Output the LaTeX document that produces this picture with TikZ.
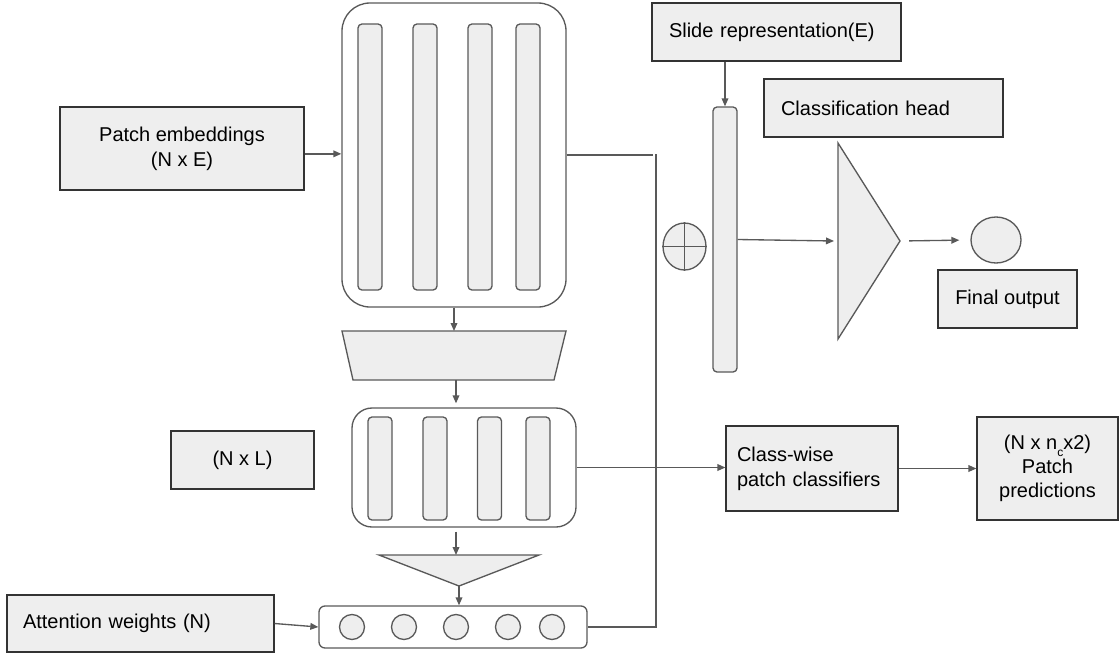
\documentclass[tikz,border=0pt]{standalone}
\usepackage{fontspec}
\setmainfont{Liberation Sans}
\usetikzlibrary{arrows.meta,shapes.geometric}
\definecolor{edge}{HTML}{595959}
\definecolor{ink}{HTML}{333333}
\definecolor{paper}{HTML}{EEEEEE}
\newcommand\lowsub[1]{\raisebox{-5pt}{\fontsize{9pt}{9pt}\selectfont #1}}
\tikzset{
  tbox/.style={draw=ink, fill=paper, line width=0.9pt, inner sep=0pt, align=center,
               font=\fontsize{15pt}{18.75pt}\selectfont},
  shell/.style={draw=edge, line width=1pt, rounded corners=#1, inner sep=0pt},
  bar/.style={draw=edge, fill=paper, line width=1pt, rounded corners=3pt, inner sep=0pt, minimum width=18pt},
  dot/.style={draw=edge, fill=paper, line width=1pt, circle, inner sep=0pt, minimum size=18.75pt},
  oval/.style={draw=edge, fill=paper, line width=1pt, ellipse, inner sep=0pt},
  block/.style={draw=edge, fill=paper, line width=1pt},
  conn/.style={draw=edge, line width=1pt},
  arr/.style={conn, -{Triangle[length=6pt,width=5pt]}},
}
\begin{document}
\begin{tikzpicture}[x=0.75pt, y=-0.75pt]
\useasboundingbox (0,0) rectangle (1120,654);

% input embeddings and the first stack
\node[tbox, minimum width=183pt, minimum height=62.25pt] (pe) at (182,148.5) {Patch embeddings\\(N x E)};
\node[shell=21pt, minimum width=168pt, minimum height=228pt] (big) at (454,155) {};
\foreach \x [count=\i] in {370,425,480,528}
  \node[bar, minimum height=199.5pt] (b\i) at (\x,157) {};

% projection
\draw[block] (342,331) -- (566,331) -- (554,380) -- (353,380) -- cycle;
\coordinate (trapT) at (454,331);
\coordinate (trapB) at (456,380);

% second stack
\node[shell=15pt, minimum width=168pt, minimum height=89.25pt] (low) at (464,467.5) {};
\foreach \x [count=\i] in {380,435,489.5,538}
  \node[bar, minimum height=77.25pt] (l\i) at (\x,468.5) {};
\node[tbox, minimum width=107.25pt, minimum height=43.5pt] (nl) at (242.5,460) {(N x L)};

% pooling funnel
\draw[block] (379,555) -- (539,555) -- (459,586) -- cycle;
\coordinate (funT) at (456,555);
\coordinate (funB) at (459,586);

% attention row
\node[shell=4.5pt, minimum width=201pt, minimum height=31.5pt] (att) at (453,627) {};
\foreach \x [count=\i] in {352,404,456,508,552}
  \node[dot] (d\i) at (\x,627) {};
\node[tbox, align=left, text width=176.25pt, inner xsep=12pt, minimum height=42.75pt] (aw) at (140.5,623.5) {Attention weights (N)};

% slide level branch
\node[tbox, align=left, text width=161.25pt, inner xsep=12.75pt, minimum height=43.5pt] (sr) at (776.5,32) {Slide representation(E)};
\node[bar, minimum height=198.75pt] (tb) at (725,239.5) {};
\node[oval, minimum width=32.25pt, minimum height=35.25pt] (sum) at (684.5,246.5) {};
\draw[conn] (sum.north) -- (sum.south) (sum.west) -- (sum.east);
\node[tbox, align=left, text width=153.75pt, inner xsep=12.75pt, minimum height=43.5pt] (ch) at (883.5,108) {Classification head};
\draw[block] (838,143) -- (900,241) -- (838,339) -- cycle;
\coordinate (hin) at (834,241);
\coordinate (hout) at (900,241);
\node[oval, minimum width=37.5pt, minimum height=34.5pt] (out) at (996,240) {};
\node[tbox, minimum width=104.25pt, minimum height=43.5pt] (fo) at (1007.5,299) {Final output};

% patch level branch
\node[tbox, align=left, text width=112.5pt, inner xsep=8.25pt, minimum height=63.75pt] (cw) at (812,468.5) {Class-wise\\patch classifiers};
\node[tbox, minimum width=105.75pt, minimum height=77.25pt, font=\fontsize{15pt}{18pt}\selectfont] (pp) at (1047.5,468.5) {(N x n\lowsub{c}x2)\\Patch\\predictions};

% routing line on the right of the stacks
\coordinate (jt) at (653,155);
\coordinate (vt) at (656,154);
\coordinate (vb) at (656,627);

% connectors
\draw[arr] ([yshift=-4pt]pe.east) -- ([yshift=-4pt]pe.east -| big.west);
\draw[arr] (big.south) -- (trapT);
\draw[arr] (trapB) -- ([yshift=3pt]trapB |- low.north);
\draw[arr] ([yshift=-3pt]low.south -| funT) -- (funT);
\draw[arr] (funB) -- (funB |- att.north);
\draw[arr] (aw.east) -- (att.west);
\draw[conn] (big.east) -- (jt);
\draw[conn] (vt) -- (vb) -- (att.east);
\draw[arr] (low.east) -- (low.east -| cw.west);
\draw[arr] (cw.east) -- (cw.east -| pp.west);
\draw[arr] (tb.north |- sr.south) -- (tb.north);
\draw[arr] (tb.east) -- (hin);
\draw[arr, shorten <=6.75pt, shorten >=8.25pt] (hout) -- (out.west);
\end{tikzpicture}
\end{document}
